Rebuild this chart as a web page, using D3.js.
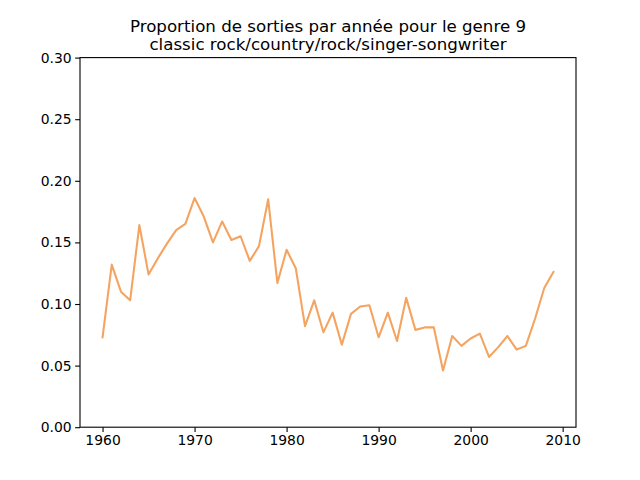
<!DOCTYPE html>
<html><head><meta charset="utf-8">
<script src="https://cdn.jsdelivr.net/npm/d3@7"></script>
<style>body{margin:0;background:#fff}svg{display:block}text{font-family:"DejaVu Sans",sans-serif}</style>
</head><body><svg id="c" width="640" height="480"></svg>
<script>
const years = d3.range(1960, 2010);
const proportions = [0.073,0.132,0.110,0.103,0.164,0.124,0.137,0.149,0.160,0.165,
0.186,0.171,0.150,0.167,0.152,0.155,0.135,0.147,0.185,0.117,
0.144,0.129,0.082,0.103,0.077,0.093,0.067,0.092,0.098,0.099,
0.073,0.093,0.070,0.105,0.079,0.081,0.081,0.046,0.074,0.066,
0.072,0.076,0.057,0.065,0.074,0.063,0.066,0.088,0.113,0.126];
const yTicks = [0,0.05,0.10,0.15,0.20,0.25,0.30];
const xTicks = [1960,1970,1980,1990,2000,2010];
const titleLines = ["Proportion de sorties par année pour le genre 9","classic rock/country/rock/singer-songwriter"];

const svg = d3.select("#c");
const L=80,R=576,T=57.6,B=427.2;
const x = d3.scaleLinear().domain([1957.55,2011.45]).range([L,R]);
const y = d3.scaleLinear().domain([0,0.30]).range([B,T]);

const xa = svg.append("g").attr("transform",`translate(0,${B})`)
  .call(d3.axisBottom(x).tickValues(xTicks).tickFormat(d3.format("d")).tickSize(4.86).tickPadding(3.5));
const ya = svg.append("g").attr("transform",`translate(${L},0)`)
  .call(d3.axisLeft(y).tickValues(yTicks).tickFormat(d3.format(".2f")).tickSize(4.86).tickPadding(3.5));
[xa,ya].forEach(a=>{a.select(".domain").remove();a.selectAll("text").attr("font-size","13.9px").attr("fill","#000").attr("font-family","DejaVu Sans");a.selectAll("line").attr("stroke","#000").attr("stroke-width",1.1);});

svg.append("path").datum(years.map((yr,i)=>[yr,proportions[i]]))
  .attr("fill","none").attr("stroke","#f4a460").attr("stroke-width",2.08)
  .attr("stroke-linejoin","round").attr("stroke-linecap","square")
  .attr("d",d3.line().x(d=>x(d[0])).y(d=>y(d[1])));

svg.append("rect").attr("x",L).attr("y",T).attr("width",R-L).attr("height",B-T)
  .attr("fill","none").attr("stroke","#000").attr("stroke-width",1.1);

svg.append("g").selectAll("text").data(titleLines).join("text")
  .attr("x",(L+R)/2).attr("y",(d,i)=>31.7+i*18.5).attr("text-anchor","middle")
  .attr("font-size","16.67px").attr("fill","#000").text(d=>d);
</script></body></html>
